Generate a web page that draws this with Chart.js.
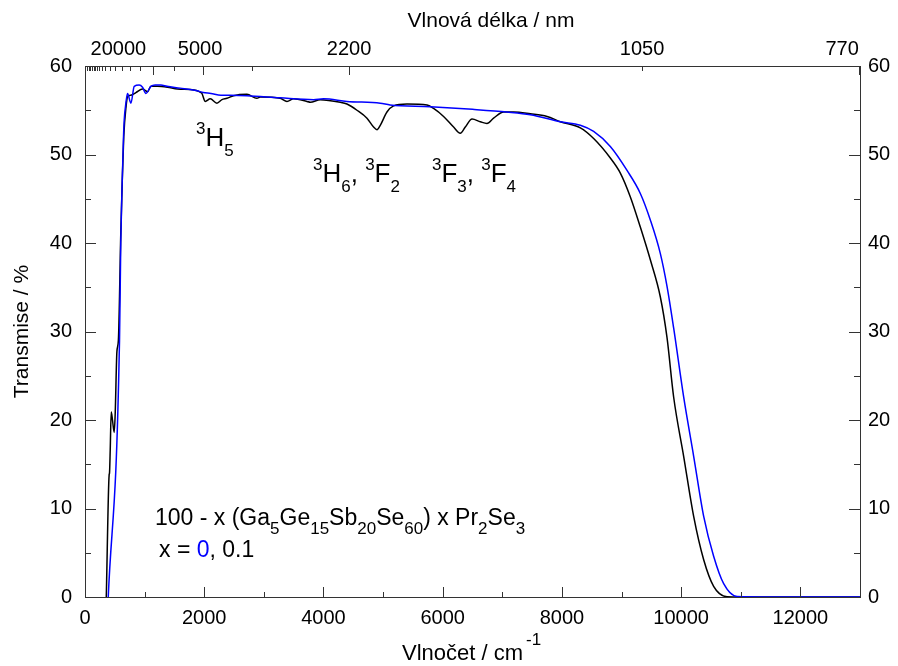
<!DOCTYPE html>
<html>
<head>
<meta charset="utf-8">
<script src="https://cdn.jsdelivr.net/npm/chart.js@4.4.1/dist/chart.umd.min.js"></script>
<style>
  body { margin: 0; background: #fff; }
  #wrap { width: 898px; height: 666px; }
</style>
</head>
<body>
<div id="wrap"><canvas id="myChart" width="898" height="666"></canvas></div>
<script>
// wavenumber (cm-1) and transmission (%)
const wnBlue = [390, 579, 600, 620, 646, 658, 686, 713, 770, 826,
  909, 965, 1022, 1106, 1178, 1273, 1374, 1597, 1878, 1983,
  2112, 2280, 2436, 2716, 3275, 3834, 4002, 4394, 4953, 5117,
  5792, 6500, 7079, 7470, 7973, 8309, 8532, 8812, 9092, 9315,
  9483, 9651, 9763, 9874, 10042, 10210, 10378, 10545, 10713, 10938,
  11500, 12000, 12500, 13000];
const trBlue = [0, 29, 40, 46, 52, 53.9, 55.8, 56.9, 55.8, 57.7,
  57.85, 57.6, 56.9, 57.7, 57.85, 57.85, 57.7, 57.5, 57.2, 57.0,
  56.9, 56.7, 56.7, 56.65, 56.4, 56.2, 56.3, 56.0, 55.8, 55.6,
  55.4, 55.1, 54.8, 54.5, 53.7, 53.3, 52.6, 50.9, 48.2, 45.6,
  42.6, 38.8, 35.1, 30.4, 22.6, 15.9, 9.1, 4.6, 1.5, 0.05,
  0, 0, 0, 0];

const wnBlack = [357, 405, 411, 423, 440, 461, 490, 507, 535, 560,
  600, 625, 650, 690, 713, 770, 854, 965, 1049, 1106,
  1216, 1384, 1552, 1832, 1916, 1961, 2017, 2101, 2213, 2297,
  2381, 2492, 2716, 2884, 2940, 3275, 3388, 3498, 3723, 3779,
  3946, 4282, 4394, 4562, 4730, 4841, 4898, 4953, 5065, 5176,
  5401, 5737, 5847, 6015, 6183, 6295, 6379, 6492, 6631, 6743,
  6854, 7022, 7190, 7470, 7750, 7973, 8309, 8532, 8812, 8980,
  9148, 9315, 9483, 9651, 9763, 9874, 10042, 10210, 10378,
  10545, 10770, 11000, 12000, 13000];
const trBlack = [0, 13.8, 14, 16.6, 20.9, 20, 18.6, 20.8, 27.7, 29,
  41, 47, 52, 55.5, 56.5, 56.7, 57.0, 57.4, 57.1, 57.7,
  57.7, 57.6, 57.4, 57.3, 57.1, 56.9, 56.0, 56.3, 55.8, 56.2,
  56.35, 56.65, 56.8, 56.35, 56.5, 56.35, 56.0, 56.3, 56.0, 55.9,
  56.2, 55.9, 55.7, 55.0, 54.1, 53.1, 52.8, 53.3, 54.8, 55.5,
  55.7, 55.6, 55.2, 54.3, 53.1, 52.4, 53.1, 54.0, 53.7, 53.5,
  54.1, 54.8, 54.8, 54.6, 54.3, 53.7, 53.0, 51.8, 49.6, 47.9,
  45.2, 41.8, 38.1, 33.9, 29.3, 22.6, 15.9, 9.1, 4.2,
  1.2, 0.03, 0, 0, 0];

const bottomTicks = [0, 2000, 4000, 6000, 8000, 10000, 12000];
const yTicks = [0, 10, 20, 30, 40, 50, 60];

// top axis: wavelength labels (nm) and where they sit on the wavenumber scale
const topLabels = ['20000', '5000', '2200', '1050', '770'];
const topLabelAt = [560, 1930, 4430, 9345, 12700];
const topMajorTicks = [1149, 1978, 4428, 12990];
const topMinorTicks = [32, 59, 87, 115, 143, 171, 199, 238, 283, 339, 423, 507, 619, 758, 926, 1485, 2800, 9350];

const FONT = "'Liberation Sans', Arial, sans-serif";
const AXIS = '#333';
Chart.defaults.font.family = FONT;
Chart.defaults.color = '#000';

function drawRich(ctx, x, y, parts, size, small) {
  ctx.textAlign = 'left';
  ctx.textBaseline = 'alphabetic';
  parts.forEach(p => {
    const kind = p[1] || 'n';
    let dy = 0, fs = size;
    if (kind === 'sup') { dy = -size * 0.46; fs = small; }
    if (kind === 'sub') { dy = size * 0.38; fs = small; }
    ctx.font = fs + 'px ' + FONT;
    ctx.fillStyle = p[2] || '#000';
    ctx.fillText(p[0], x, y + dy);
    x += ctx.measureText(p[0]).width;
  });
}

const framePlugin = {
  id: 'frame',
  afterDatasetsDraw(chart) {
    const ctx = chart.ctx;
    const a = chart.chartArea;
    const sx = chart.scales.x, sy = chart.scales.y;
    ctx.save();
    ctx.strokeStyle = AXIS;
    ctx.lineWidth = 1;
    ctx.strokeRect(a.left + 0.5, a.top + 0.5, a.right - a.left, a.bottom - a.top);
    ctx.beginPath();
    for (let v = 0; v <= 60; v += 5) {
      const py = Math.round(sy.getPixelForValue(v)) + 0.5;
      const len = v % 10 === 0 ? 11 : 6;
      ctx.moveTo(a.left, py); ctx.lineTo(a.left + len, py);
      ctx.moveTo(a.right, py); ctx.lineTo(a.right - len, py);
    }
    for (let v = 0; v <= 13000; v += 1000) {
      const px = Math.round(sx.getPixelForValue(v)) + 0.5;
      const len = v % 2000 === 0 ? 10 : 5;
      ctx.moveTo(px, a.bottom); ctx.lineTo(px, a.bottom - len);
    }
    topMajorTicks.forEach(v => {
      const px = Math.round(sx.getPixelForValue(v)) + 0.5;
      ctx.moveTo(px, a.top); ctx.lineTo(px, a.top + 9);
    });
    topMinorTicks.forEach(v => {
      const px = Math.round(sx.getPixelForValue(v)) + 0.5;
      ctx.moveTo(px, a.top); ctx.lineTo(px, a.top + 5);
    });
    ctx.stroke();
    ctx.restore();
  },
  afterDraw(chart) {
    const ctx = chart.ctx;
    const a = chart.chartArea;
    ctx.save();
    // axis titles
    ctx.fillStyle = '#000';
    ctx.font = '21px ' + FONT;
    ctx.textAlign = 'center';
    ctx.textBaseline = 'alphabetic';
    ctx.fillText('Vlnová délka / nm', 491, 27);
    ctx.save();
    ctx.translate(28, (a.top + a.bottom) / 2);
    ctx.rotate(-Math.PI / 2);
    ctx.fillText('Transmise / %', 0, 0);
    ctx.restore();
    ctx.textAlign = 'left';
    ctx.font = '22px ' + FONT;
    const bx = 402;
    ctx.fillText('Vlnočet / cm', bx, 660);
    const w1 = ctx.measureText('Vlnočet / cm').width;
    ctx.font = '17px ' + FONT;
    ctx.fillText('-1', bx + w1 + 3, 645);
    // band assignments
    drawRich(ctx, 196, 146, [['3', 'sup'], ['H'], ['5', 'sub']], 26, 17);
    drawRich(ctx, 313, 182, [['3', 'sup'], ['H'], ['6', 'sub'], [', '], ['3', 'sup'], ['F'], ['2', 'sub']], 26, 17);
    drawRich(ctx, 432, 182, [['3', 'sup'], ['F'], ['3', 'sub'], [', '], ['3', 'sup'], ['F'], ['4', 'sub']], 26, 17);
    // composition
    drawRich(ctx, 155, 525, [['100 - x (Ga'], ['5', 'sub'], ['Ge'], ['15', 'sub'], ['Sb'], ['20', 'sub'],
      ['Se'], ['60', 'sub'], [') x Pr'], ['2', 'sub'], ['Se'], ['3', 'sub']], 23, 17);
    drawRich(ctx, 159, 557, [['x = '], ['0', 'n', '#0000ff'], [', 0.1']], 23, 17);
    ctx.restore();
  }
};

const tickFont = { size: 20, family: FONT };

new Chart('myChart', {
  type: 'line',
  data: {
    datasets: [
      {
        label: 'x = 0',
        data: wnBlue.map((v, i) => ({ x: v, y: trBlue[i] })),
        borderColor: '#0000ff',
        borderWidth: 1.5,
        pointRadius: 0,
        cubicInterpolationMode: 'monotone',
        order: 0
      },
      {
        label: 'x = 0.1',
        data: wnBlack.map((v, i) => ({ x: v, y: trBlack[i] })),
        borderColor: '#000000',
        borderWidth: 1.5,
        pointRadius: 0,
        cubicInterpolationMode: 'monotone',
        order: 1
      }
    ]
  },
  options: {
    responsive: false,
    animation: false,
    devicePixelRatio: 1,
    layout: { padding: 0 },
    plugins: { legend: { display: false }, tooltip: { enabled: false } },
    scales: {
      x: {
        type: 'linear', position: 'bottom', min: 0, max: 13000,
        afterBuildTicks: s => { s.ticks = bottomTicks.map(v => ({ value: v })); },
        ticks: { callback: v => String(v), font: tickFont, color: '#000', padding: 9, maxRotation: 0, autoSkip: false },
        grid: { display: false, drawTicks: false },
        border: { display: false },
        afterFit: s => { s.height = 69; }
      },
      x2: {
        type: 'linear', position: 'top', min: 0, max: 13000,
        afterBuildTicks: s => { s.ticks = topLabelAt.map(v => ({ value: v })); },
        ticks: { callback: (v, i) => topLabels[i], font: tickFont, color: '#000', padding: 5, maxRotation: 0, autoSkip: false },
        grid: { display: false, drawTicks: false },
        border: { display: false },
        afterFit: s => { s.height = 66; }
      },
      y: {
        position: 'left', min: 0, max: 60,
        afterBuildTicks: s => { s.ticks = yTicks.map(v => ({ value: v })); },
        ticks: { font: tickFont, color: '#000', padding: 13 },
        grid: { display: false, drawTicks: false },
        border: { display: false },
        afterFit: s => { s.width = 85; }
      },
      y2: {
        position: 'right', min: 0, max: 60,
        afterBuildTicks: s => { s.ticks = yTicks.map(v => ({ value: v })); },
        ticks: { font: tickFont, color: '#000', padding: 8 },
        grid: { display: false, drawTicks: false },
        border: { display: false },
        afterFit: s => { s.width = 38; }
      }
    }
  },
  plugins: [framePlugin]
});
</script>
</body>
</html>
